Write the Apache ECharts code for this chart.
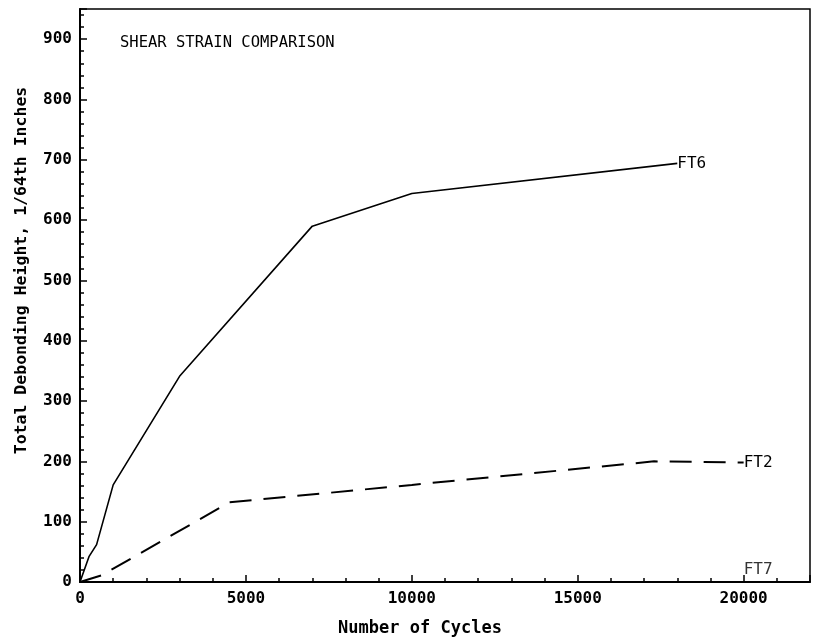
<!DOCTYPE html>
<html>
<head>
<meta charset="utf-8">
<script src="https://cdn.jsdelivr.net/npm/echarts@6/dist/echarts.min.js"></script>
<style>html,body{margin:0;padding:0;background:#fff;}#c{width:817px;height:642px;}</style>
</head>
<body>
<div id="c"></div>
<script>
var titleText = 'SHEAR STRAIN COMPARISON';
var xName = 'Number of Cycles';
var yName = 'Total Debonding Height, 1/64th Inches';
var ft6 = [[0,0],[270,42],[500,62],[1000,161],[3000,341],[7000,590],[10000,644],[18000,694]];
var ft2 = [[0,0],[650,11],[4500,132],[10000,161],[17300,200],[20000,198]];
var ft7 = [[20000,0]];
var seriesNames = ['FT6','FT2','FT7'];

var font = "'DejaVu Sans Mono', 'Liberation Mono', monospace";
var chart = echarts.init(document.getElementById('c'), null, {renderer:'canvas'});
chart.setOption({
  backgroundColor:'#fff',
  animation:false,
  title:{text:titleText,left:115,top:30,textStyle:{fontFamily:font,fontWeight:'normal',fontSize:15.5,color:'#000'}},
  grid:{left:80,right:7,top:9,bottom:57,show:true,borderColor:'#000',borderWidth:1.5},
  xAxis:{type:'value',min:0,max:22000,interval:5000,
    name:xName,nameLocation:'middle',nameGap:38,
    nameTextStyle:{fontFamily:font,fontWeight:'bold',fontSize:17,color:'#000',padding:[0,50,0,0]},
    axisLine:{lineStyle:{color:'#000',width:2}},
    axisTick:{inside:true,length:7,lineStyle:{color:'#000',width:1.5}},
    minorTick:{show:true,splitNumber:5,length:4,lineStyle:{color:'#000',width:1.5}},
    splitLine:{show:false},
    axisLabel:{showMaxLabel:false,margin:9,fontFamily:font,fontWeight:'bold',fontSize:16,color:'#000',
      formatter:function(v){return String(v);}}},
  yAxis:{type:'value',min:0,max:950,interval:100,
    name:yName,nameLocation:'middle',nameGap:50,
    nameTextStyle:{fontFamily:font,fontWeight:'bold',fontSize:16.5,color:'#000',padding:[0,0,0,50]},
    axisLine:{lineStyle:{color:'#000',width:2}},
    axisTick:{inside:true,length:7,lineStyle:{color:'#000',width:1.5}},
    minorTick:{show:true,splitNumber:5,length:4,lineStyle:{color:'#000',width:1.5}},
    splitLine:{show:false},
    axisLabel:{showMaxLabel:false,margin:8,fontFamily:font,fontWeight:'bold',fontSize:16,color:'#000',
      formatter:function(v){return String(v);}}},
  series:[
    {name:seriesNames[0],type:'line',data:ft6,showSymbol:false,lineStyle:{color:'#000',width:1.6},
     endLabel:{show:true,formatter:seriesNames[0],distance:0,fontFamily:font,fontSize:16,color:'#000'}},
    {name:seriesNames[1],type:'line',data:ft2,showSymbol:false,lineStyle:{color:'#000',width:2,type:[22,12]},
     endLabel:{show:true,formatter:seriesNames[1],distance:0,fontFamily:font,fontSize:16,color:'#000'}},
    {name:seriesNames[2],type:'scatter',data:ft7,symbolSize:0,
     label:{show:true,formatter:seriesNames[2],position:[0,-20],fontFamily:font,fontSize:16,color:'#000'}}
  ]
});
</script>
</body>
</html>
